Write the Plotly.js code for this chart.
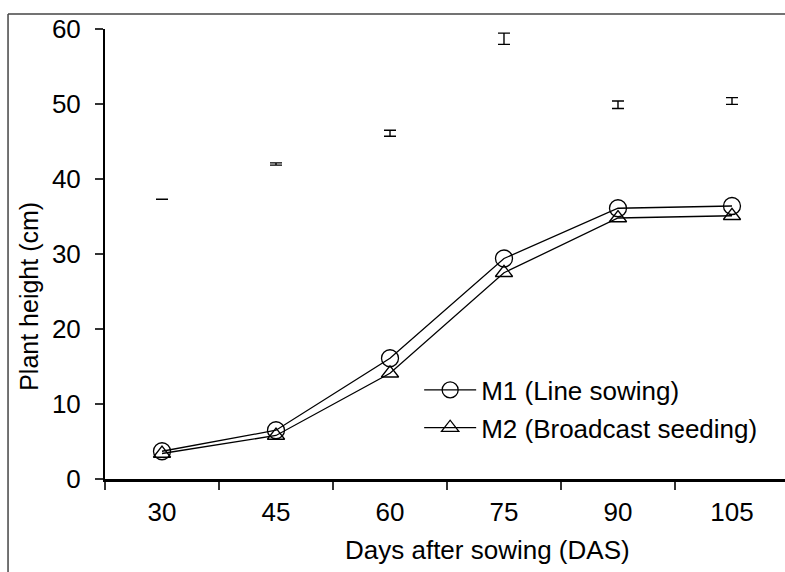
<!DOCTYPE html>
<html>
<head>
<meta charset="utf-8">
<script src="https://cdn.plot.ly/plotly-3.0.1.min.js"></script>
<style>html,body{margin:0;padding:0;background:#fff;}#chart{width:785px;height:572px;}</style>
</head>
<body>
<div id="chart"></div>
<script>
const days = ['30', '45', '60', '75', '90', '105'];
const m1LineSowing = [3.7, 6.5, 16.1, 29.4, 36.1, 36.4];
const m2Broadcast = [3.4, 5.8, 14.1, 27.5, 34.8, 35.1];
const lsdCentre = [37.3, 42.0, 46.1, 58.7, 49.9, 50.4];
const lsdHalf = [0, 0.15, 0.4, 0.75, 0.5, 0.45];
const seriesNames = ['M1 (Line sowing)', 'M2 (Broadcast seeding)'];
const yTitle = 'Plant height (cm)';
const xTitle = 'Days after sowing (DAS)';

const font = 'Arial, "Liberation Sans", sans-serif';

const traces = [
  {
    x: days, y: lsdCentre, type: 'scatter', mode: 'markers',
    marker: {size: 1, color: 'rgba(0,0,0,0)'},
    error_y: {type: 'data', array: lsdHalf, symmetric: true, color: '#000', thickness: 1.4, width: 6},
    showlegend: false, hoverinfo: 'skip'
  },
  {
    x: days, y: m1LineSowing, type: 'scatter', mode: 'lines+markers', name: seriesNames[0],
    legendgroup: 'a',
    line: {color: '#000', width: 1.3},
    marker: {symbol: 'circle-open', size: 17, color: '#000', line: {width: 1.3, color: '#000'}}
  },
  {
    x: days, y: m2Broadcast, type: 'scatter', mode: 'lines+markers', name: seriesNames[1],
    legendgroup: 'b',
    line: {color: '#000', width: 1.3},
    marker: {symbol: 'triangle-up-open', size: 15, color: '#000', line: {width: 1.3, color: '#000'}}
  }
];

const layout = {
  width: 785, height: 572,
  margin: {l: 105, r: 0, t: 29, b: 93, pad: 0},
  paper_bgcolor: '#fff', plot_bgcolor: '#fff',
  font: {family: font, color: '#000', size: 26},
  showlegend: true,
  legend: {
    x: 0.462, y: 0.250, xanchor: 'left', yanchor: 'top',
    bgcolor: 'rgba(0,0,0,0)', borderwidth: 0,
    font: {family: font, size: 26, color: '#000'},
    itemwidth: 52, tracegroupgap: 1, traceorder: 'grouped'
  },
  xaxis: {
    type: 'category', range: [-0.5, 5.465],
    showline: true, linecolor: '#000', linewidth: 2.5,
    ticks: 'outside', tickson: 'boundaries', ticklen: 8, tickwidth: 1.2, tickcolor: '#333',
    showgrid: false, zeroline: false,
    tickfont: {family: font, size: 26, color: '#000'},
    ticklabelstandoff: 8
  },
  yaxis: {
    range: [0, 60], tickvals: [0, 10, 20, 30, 40, 50, 60],
    showline: true, linecolor: '#000', linewidth: 2,
    ticks: 'outside', ticklen: 8, tickwidth: 1.2, tickcolor: '#333',
    showgrid: false, zeroline: false,
    tickfont: {family: font, size: 26, color: '#000'},
    ticklabelstandoff: 9
  },
  annotations: [
    {text: xTitle, xref: 'paper', yref: 'paper', x: 0.563, y: -0.158,
     xanchor: 'center', yanchor: 'middle', showarrow: false,
     font: {family: font, size: 26, color: '#000'}},
    {text: yTitle, xref: 'paper', yref: 'paper', x: -0.1118, y: 0.407,
     xanchor: 'center', yanchor: 'middle', showarrow: false, textangle: -90,
     font: {family: font, size: 25, color: '#000'}}
  ],
  shapes: [
    {type: 'line', xref: 'paper', yref: 'paper', x0: -0.1426, x1: -0.1426, y0: 1.0333, y1: -0.3,
     line: {color: '#444', width: 1.5}},
    {type: 'line', xref: 'paper', yref: 'paper', x0: -0.1426, x1: 1.01, y0: 1.0333, y1: 1.0333,
     line: {color: '#444', width: 1.5}}
  ]
};

Plotly.newPlot('chart', traces, layout, {displayModeBar: false, staticPlot: true});
</script>
</body>
</html>
